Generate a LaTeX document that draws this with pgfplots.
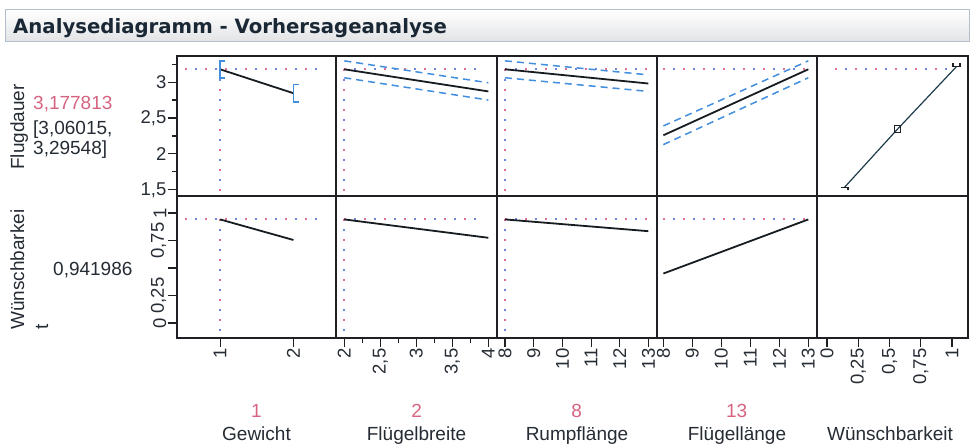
\documentclass[border=0pt]{standalone}
\usepackage{pgfplots}
\pgfplotsset{compat=1.18}
\usepackage{fontspec}
\setmainfont{Liberation Sans}
\newfontfamily\titlefont{DejaVu Sans}

\definecolor{framec}{RGB}{30,32,36}
\definecolor{labelc}{RGB}{38,44,52}
\definecolor{pinkc}{RGB}{214,100,128}
\definecolor{xred}{RGB}{222,110,150}
\definecolor{xblue}{RGB}{110,135,220}
\definecolor{ciblue}{RGB}{66,142,222}
\definecolor{predc}{RGB}{22,28,32}
\definecolor{desc}{RGB}{30,60,75}
\definecolor{titlebd}{RGB}{178,192,206}
\definecolor{titlec}{RGB}{26,40,54}

\pgfdeclareplotmark{hbot}{%
  \pgfpathmoveto{\pgfqpoint{-\pgfplotmarksize}{0pt}}%
  \pgfpathlineto{\pgfqpoint{\pgfplotmarksize}{0pt}}%
  \pgfpathlineto{\pgfqpoint{\pgfplotmarksize}{-0.8\pgfplotmarksize}}%
  \pgfusepathqstroke}
\pgfdeclareplotmark{htop}{%
  \pgfpathmoveto{\pgfqpoint{-\pgfplotmarksize}{\pgfplotmarksize}}%
  \pgfpathlineto{\pgfqpoint{-\pgfplotmarksize}{0pt}}%
  \pgfpathlineto{\pgfqpoint{\pgfplotmarksize}{0pt}}%
  \pgfpathlineto{\pgfqpoint{\pgfplotmarksize}{\pgfplotmarksize}}%
  \pgfusepathqstroke}

\newcommand{\xline}[4]{%
  \addplot[xred, line width=2pt, dash pattern=on 2pt off 18pt, forget plot] coordinates {(#1,#2) (#3,#4)};
  \addplot[xblue, line width=2pt, dash pattern=on 2pt off 18pt, dash phase=10pt, forget plot] coordinates {(#1,#2) (#3,#4)};
}

\pgfplotsset{
  prof/.style={
    scale only axis, anchor=south west,
    axis line style={draw=framec, line width=1.4pt},
    every tick/.style={draw=framec, line width=1.1pt},
    tick align=outside,
    major tick length=9pt, minor tick length=5pt,
    xtick pos=bottom, ytick pos=left,
    xtick=\empty, ytick=\empty,
    ticklabel style={font=\fontsize{18.5}{18.5}\selectfont, text=labelc, inner sep=1.5pt},
  },
  pred/.style={predc, line width=1.8pt, forget plot},
  ci/.style={ciblue, line width=1.5pt, dash pattern=on 7pt off 5pt, forget plot},
  r1/.style={ymin=1.415, ymax=3.363},
  r2/.style={ymin=-0.136, ymax=1.155},
  c1/.style={xmin=0.413, xmax=2.58},
  c2/.style={xmin=1.885, xmax=4.12},
  c3/.style={xmin=7.72, xmax=13.30},
  c4/.style={xmin=7.78, xmax=13.30},
  c5/.style={xmin=-0.08, xmax=1.128},
  xrot/.style={xticklabel style={rotate=90, anchor=east}},
}

\begin{document}
\begin{tikzpicture}[x=1pt,y=1pt]
\path[use as bounding box] (0,0) rectangle (970,446);

% title bar
\shadedraw[top color=white, bottom color={rgb,255:red,226;green,227;blue,229}, draw=titlebd, line width=1pt] (5,404) rectangle (969.5,436);
\node[anchor=base west, inner sep=0pt, text=titlec] at (13,412.7) {\titlefont\bfseries\fontsize{19.7}{22}\selectfont Analysediagramm - Vorhersageanalyse};

% ---------- Row 1 : Flugdauer ----------
\begin{axis}[prof, r1, c1, at={(177pt,250pt)}, width=159pt, height=140pt,
  ytick={1.5,2,2.5,3}, yticklabels={{1,5},{2},{2,5},{3}},
  minor ytick={1.75,2.25,2.75,3.25}]
  \xline{0.52}{3.177813}{2.40}{3.177813}
  \xline{1}{3.177813}{1}{1.415}
  \addplot[pred] coordinates {(1,3.177813) (2,2.845)};
  \addplot[ciblue, line width=1.5pt, forget plot] coordinates {(1.07,3.29548) (1,3.29548) (1,3.06015) (1.07,3.06015)};
  \addplot[ciblue, line width=1.5pt, forget plot] coordinates {(2.07,2.965) (2,2.965) (2,2.725) (2.07,2.725)};
\end{axis}

\begin{axis}[prof, r1, c2, at={(336pt,250pt)}, width=161pt, height=140pt]
  \xline{2}{3.177813}{3.93}{3.177813}
  \xline{2}{3.177813}{2}{1.415}
  \addplot[ci] coordinates {(2,3.29548) (4,2.99)};
  \addplot[ci] coordinates {(2,3.06015) (4,2.75)};
  \addplot[pred] coordinates {(2,3.177813) (4,2.87)};
\end{axis}

\begin{axis}[prof, r1, c3, at={(497pt,250pt)}, width=160pt, height=140pt]
  \xline{8}{3.177813}{12.95}{3.177813}
  \xline{8}{3.177813}{8}{1.415}
  \addplot[ci] coordinates {(8,3.29548) (13,3.10)};
  \addplot[ci] coordinates {(8,3.06015) (13,2.87)};
  \addplot[pred] coordinates {(8,3.177813) (13,2.98)};
\end{axis}

\begin{axis}[prof, r1, c4, at={(657pt,250pt)}, width=160pt, height=140pt]
  \xline{8}{3.177813}{13}{3.177813}
  \addplot[ci] coordinates {(8,2.39) (13,3.29548)};
  \addplot[ci] coordinates {(8,2.13) (13,3.06015)};
  \addplot[pred] coordinates {(8,2.26) (13,3.177813)};
\end{axis}

\begin{axis}[prof, r1, c5, at={(817pt,250pt)}, width=151pt, height=140pt]
  \xline{0.065}{3.177813}{1.017}{3.177813}
  \addplot[desc, line width=1.2pt, forget plot] coordinates {(0.14,1.535) (0.565,2.347) (1.035,3.214)};
  \addplot[only marks, mark=square, mark size=3.2pt, mark options={draw=framec, line width=1.2pt}, forget plot] coordinates {(0.565,2.347)};
  \addplot[only marks, mark=hbot, mark size=3.5pt, mark options={draw=framec, line width=1.3pt}, forget plot] coordinates {(0.14,1.535)};
  \addplot[only marks, mark=htop, mark size=3.5pt, mark options={draw=framec, line width=1.3pt}, forget plot] coordinates {(1.035,3.214)};
\end{axis}

% ---------- Row 2 : Wuenschbarkeit ----------
\begin{axis}[prof, r2, c1, xrot, at={(177pt,108pt)}, width=159pt, height=142pt,
  ytick={0,0.25,0.5,0.75,1}, yticklabels={{0},{0,25},{},{0,75},{1}},
  yticklabel style={rotate=90, anchor=south},
  xtick={1,2}, xticklabels={{1},{2}}]
  \xline{0.52}{0.941986}{2.40}{0.941986}
  \xline{1}{0.941986}{1}{-0.136}
  \addplot[pred] coordinates {(1,0.941986) (2,0.755)};
\end{axis}

\begin{axis}[prof, r2, c2, xrot, at={(336pt,108pt)}, width=161pt, height=142pt,
  xtick={2,2.5,3,3.5,4}, xticklabels={{2},{2,5},{3},{3,5},{4}},
  minor xtick={2.25,2.75,3.25,3.75}]
  \xline{2}{0.941986}{3.93}{0.941986}
  \xline{2}{0.941986}{2}{-0.136}
  \addplot[pred] coordinates {(2,0.941986) (4,0.775)};
\end{axis}

\begin{axis}[prof, r2, c3, xrot, at={(497pt,108pt)}, width=160pt, height=142pt,
  xtick={8,9,10,11,12,13}, xticklabels={{8},{9},{10},{11},{12},{13}}]
  \xline{8}{0.941986}{12.95}{0.941986}
  \xline{8}{0.941986}{8}{-0.136}
  \addplot[pred] coordinates {(8,0.941986) (13,0.835)};
\end{axis}

\begin{axis}[prof, r2, c4, xrot, at={(657pt,108pt)}, width=160pt, height=142pt,
  xtick={8,9,10,11,12,13}, xticklabels={{8},{9},{10},{11},{12},{13}}]
  \xline{8}{0.941986}{13}{0.941986}
  \addplot[pred] coordinates {(8,0.45) (13,0.941986)};
\end{axis}

\begin{axis}[prof, r2, c5, xrot, at={(817pt,108pt)}, width=151pt, height=142pt,
  xtick={0,0.25,0.5,0.75,1}, xticklabels={{0},{0,25},{0,5},{0,75},{1}}]
  \addplot[draw=none, forget plot] coordinates {(0,0) (1,1)};
\end{axis}

% ---------- left labels ----------
\begin{scope}[every node/.style={inner sep=0pt, text=labelc, font=\fontsize{19}{23}\selectfont}]
\node[rotate=90, anchor=base west] at (24,276) {Flugdauer};
\node[anchor=west, text=pinkc] at (33,342) {3,177813};
\node[anchor=west] at (33,316) {[3,06015,};
\node[anchor=west] at (33,296) {3,29548]};
\node[rotate=90, anchor=base west] at (24,116) {Wünschbarkei};
\node[rotate=90, anchor=base west] at (48,116) {t};
\node[anchor=west] at (53,176) {0,941986};

% ---------- bottom labels ----------
\node[anchor=base, text=pinkc] at (256.5,28) {1};
\node[anchor=base, text=pinkc] at (416.7,28) {2};
\node[anchor=base, text=pinkc] at (576.7,28) {8};
\node[anchor=base, text=pinkc] at (736.7,28) {13};
\node[anchor=base] at (256.5,5) {Gewicht};
\node[anchor=base] at (416.5,5) {Flügelbreite};
\node[anchor=base] at (577,5) {Rumpflänge};
\node[anchor=base] at (737,5) {Flügellänge};
\node[anchor=base] at (890,5) {Wünschbarkeit};
\end{scope}
\end{tikzpicture}
\end{document}
